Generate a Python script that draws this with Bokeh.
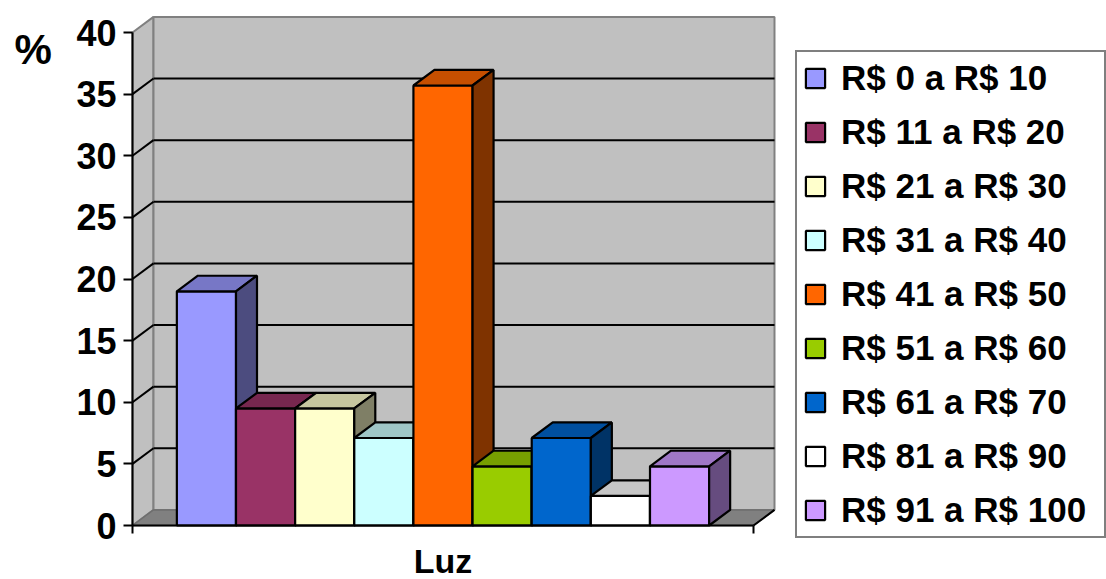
from bokeh.plotting import figure
from bokeh.models import (Range1d, LinearAxis, FixedTicker, Legend, LegendItem,
                          Label, ColumnDataSource)
from bokeh.embed import file_html
from bokeh.resources import INLINE

# --- data -------------------------------------------------------------
categories = ["R$ 0 a R$ 10", "R$ 11 a R$ 20", "R$ 21 a R$ 30",
              "R$ 31 a R$ 40", "R$ 41 a R$ 50", "R$ 51 a R$ 60",
              "R$ 61 a R$ 70", "R$ 81 a R$ 90", "R$ 91 a R$ 100"]
values = [19.0, 9.5, 9.5, 7.1, 35.7, 4.8, 7.1, 2.4, 4.8]
colors = ["#9999FF", "#993366", "#FFFFCC", "#CCFFFF", "#FF6600",
          "#99CC00", "#0066CC", "#FFFFFF", "#CC99FF"]
y_ticks = [0, 5, 10, 15, 20, 25, 30, 35, 40]
group_label = "Luz"
unit_label = "%"

FONT = "Liberation Sans"
W, H = 1106, 579

# --- scale: the plot frame fills the whole canvas -----------------------
X0_PX, X_UNIT_PX = 132, 621          # category span [0, 1]
Y0_PX, Y_UNIT_PX = 525, 12.325       # pixels per percentage point

# --- geometry of the pseudo-3D box ------------------------------------
n = len(values)
HALF_GAP = 0.75                      # gap on each side, in bar widths
bw = 1.0 / (n + 2 * HALF_GAP)        # bar width in category units
DX = 21 / X_UNIT_PX                  # depth offset, category units
DY = 15.6 / Y_UNIT_PX                # depth offset, value units
Y_MAX = y_ticks[-1]


def shade(hex_color, f):
    r, g, b = (int(hex_color[i:i + 2], 16) for i in (1, 3, 5))
    return "#%02x%02x%02x" % (int(r * f), int(g * f), int(b * f))


p = figure(width=W, height=H,
           x_range=Range1d(-X0_PX / X_UNIT_PX, (W - X0_PX) / X_UNIT_PX),
           y_range=Range1d(-(H - Y0_PX) / Y_UNIT_PX, Y0_PX / Y_UNIT_PX),
           x_axis_type=None, y_axis_type=None,
           min_border=0, min_border_left=0, min_border_right=0,
           min_border_top=0, min_border_bottom=0,
           output_backend="svg", toolbar_location=None)
p.outline_line_color = None
p.background_fill_color = "white"
p.border_fill_color = "white"

# walls and floor
wall = ColumnDataSource(dict(
    xs=[[0, DX, DX, 0], [DX, 1 + DX, 1 + DX, DX]],
    ys=[[0, DY, Y_MAX + DY, Y_MAX], [DY, DY, Y_MAX + DY, Y_MAX + DY]],
))
p.patches("xs", "ys", source=wall, fill_color="#C0C0C0",
          line_color="#808080", line_width=2)
p.patch([0, 1, 1 + DX, DX], [0, 0, DY, DY], fill_color="#808080",
        line_color="#6E6E6E", line_width=1.5)
p.segment(x0=[1], y0=[0], x1=[1 + DX], y1=[DY], line_color="black",
          line_width=2)

# gridlines on the back and side walls
inner = y_ticks[1:-1]
p.segment(x0=[DX] * len(inner), y0=[t + DY for t in inner],
          x1=[1 + DX] * len(inner), y1=[t + DY for t in inner],
          line_color="black", line_width=2)
p.segment(x0=[0] * len(inner), y0=inner,
          x1=[DX] * len(inner), y1=[t + DY for t in inner],
          line_color="black", line_width=2)

# bars: front, top and side faces, drawn left to right
xs, ys, fills = [], [], []
for i, v in enumerate(values):
    x0 = (HALF_GAP + i) * bw
    x1 = x0 + bw
    xs += [[x0, x1, x1, x0],
           [x0, x1, x1 + DX, x0 + DX],
           [x1, x1 + DX, x1 + DX, x1]]
    ys += [[0, 0, v, v],
           [v, v, v + DY, v + DY],
           [0, DY, v + DY, v]]
    fills += [colors[i], shade(colors[i], 0.78), shade(colors[i], 0.5)]
bars = p.patches("xs", "ys", source=ColumnDataSource(dict(xs=xs, ys=ys, fill=fills)),
                 fill_color="fill", line_color="black", line_width=2.2)

# axes, pinned at the front edges of the box
yax = LinearAxis(fixed_location=0, bounds=(0, Y_MAX),
                 ticker=FixedTicker(ticks=y_ticks),
                 axis_line_width=2, axis_line_color="black",
                 major_tick_line_width=2, major_tick_out=9, major_tick_in=0,
                 minor_tick_out=0, minor_tick_in=0,
                 major_label_standoff=7,
                 major_label_text_font=FONT,
                 major_label_text_font_size="36px",
                 major_label_text_font_style="bold",
                 major_label_text_color="black")
p.add_layout(yax, "left")

xax = LinearAxis(fixed_location=0, bounds=(0, 1), ticker=FixedTicker(ticks=[0, 1]),
                 axis_line_width=2, axis_line_color="black",
                 major_tick_line_width=2, major_tick_out=8, major_tick_in=0,
                 minor_tick_out=0, minor_tick_in=0,
                 major_label_overrides={0: "", 1: ""},
                 major_label_text_font_size="1px",
                 major_label_standoff=0)
p.add_layout(xax, "below")

p.add_layout(Label(x=0.5, y=0, y_offset=-35, text=group_label,
                   text_align="center", text_baseline="alphabetic",
                   text_font=FONT, text_font_size="34px",
                   text_font_style="bold", text_color="black"))
p.add_layout(Label(x=0, y=Y_MAX, x_offset=-118, y_offset=-17, text=unit_label,
                   text_align="left", text_baseline="alphabetic",
                   text_font=FONT, text_font_size="42px",
                   text_font_style="bold", text_color="black"))

legend = Legend(items=[LegendItem(label=categories[i], renderers=[bars], index=3 * i)
                       for i in range(n)],
                location=(795, H - 538), margin=0, padding=6,
                glyph_width=24, glyph_height=24, label_standoff=14,
                label_width=257, label_height=38, spacing=14,
                label_text_font=FONT, label_text_font_size="35px",
                label_text_font_style="bold", label_text_color="black",
                border_line_color="black", border_line_width=2,
                background_fill_color="white", background_fill_alpha=1)
p.add_layout(legend)

open("out.html", "w").write(file_html(p, INLINE))
